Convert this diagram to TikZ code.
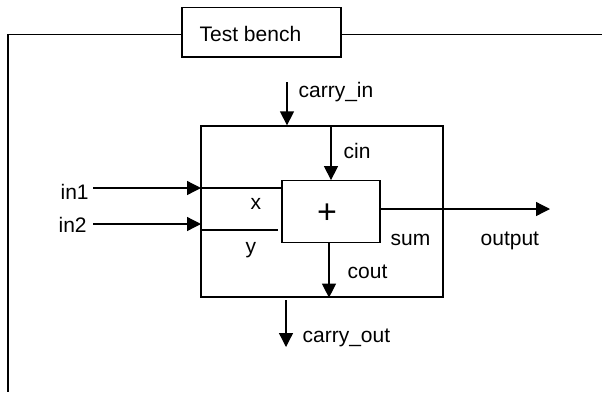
\documentclass[tikz,border=0pt]{standalone}
\usepackage{fontspec}
\setmainfont{Liberation Sans}
\usetikzlibrary{arrows.meta}
\begin{document}
\begin{tikzpicture}[x=1pt,y=-1pt, line width=1.3pt,
  box/.style={draw, rectangle, inner sep=0pt},
  lbl/.style={inner sep=0pt, anchor=base west, font=\fontsize{21}{25}\selectfont},
  arr/.style={-{Triangle[length=14pt,width=14pt]}}]
\useasboundingbox (0,0) rectangle (602,392);
% test bench frame
\node[box, minimum width=159pt, minimum height=49.5pt] (tb) at (261.5,32.25) {};
\node[lbl] (tbt) at (199,41) {Test bench};
\coordinate (fl) at (8,34.5);
\coordinate (flb) at (8,392);
\coordinate (fr) at (602,34.5);
\draw (tb.west |- fl) -- (fl) -- (flb);
\draw (tb.east |- fr) -- (fr);
% DUT and adder
\node[box, minimum width=242pt, minimum height=171pt] (dut) at (322,211.5) {};
\node[box, minimum width=98pt, minimum height=61.5pt] (add) at (331,211.5) {};
\node[inner sep=0pt, font=\fontsize{34}{40}\selectfont] (plus) at (327,214) {+};
% carry_in
\coordinate (ci0) at (287,82);
\draw[arr] (ci0) -- (ci0 |- dut.north);
\node[lbl] (cil) at (298,97) {carry\_in};
% cin
\coordinate (cn0) at (331,126);
\draw[arr] (cn0) -- (cn0 |- add.north);
\node[lbl] (cinl) at (343,158) {cin};
% in1 / x
\node[lbl] (in1) at (60,199) {in1};
\coordinate (a1) at (93,188);
\coordinate (b1) at (201,188);
\draw[arr] (a1) -- (b1);
\draw (b1) -- (b1 -| add.west);
\node[lbl] (xl) at (250,209) {x};
% in2 / y
\node[lbl] (in2) at (58,232) {in2};
\coordinate (a2) at (93,224);
\coordinate (b2) at (201,224);
\draw[arr] (a2) -- (b2);
\coordinate (c2) at (201,230);
\coordinate (d2) at (278,230);
\draw (c2) -- (d2);
\node[lbl] (yl) at (245,253) {y};
% sum / output
\coordinate (s0) at (380,209);
\coordinate (s1) at (550,209);
\draw[arr] (s0) -- (s1);
\node[lbl] (suml) at (390,245) {sum};
\node[lbl] (outl) at (480,245) {output};
% cout
\coordinate (co0) at (329,242);
\draw[arr] (co0) -- (co0 |- dut.south);
\node[lbl] (coutl) at (347,278) {cout};
% carry_out
\coordinate (cq0) at (286,300);
\coordinate (cq1) at (286,347);
\draw[arr] (cq0) -- (cq1);
\node[lbl] (col) at (302,342) {carry\_out};
\end{tikzpicture}
\end{document}
